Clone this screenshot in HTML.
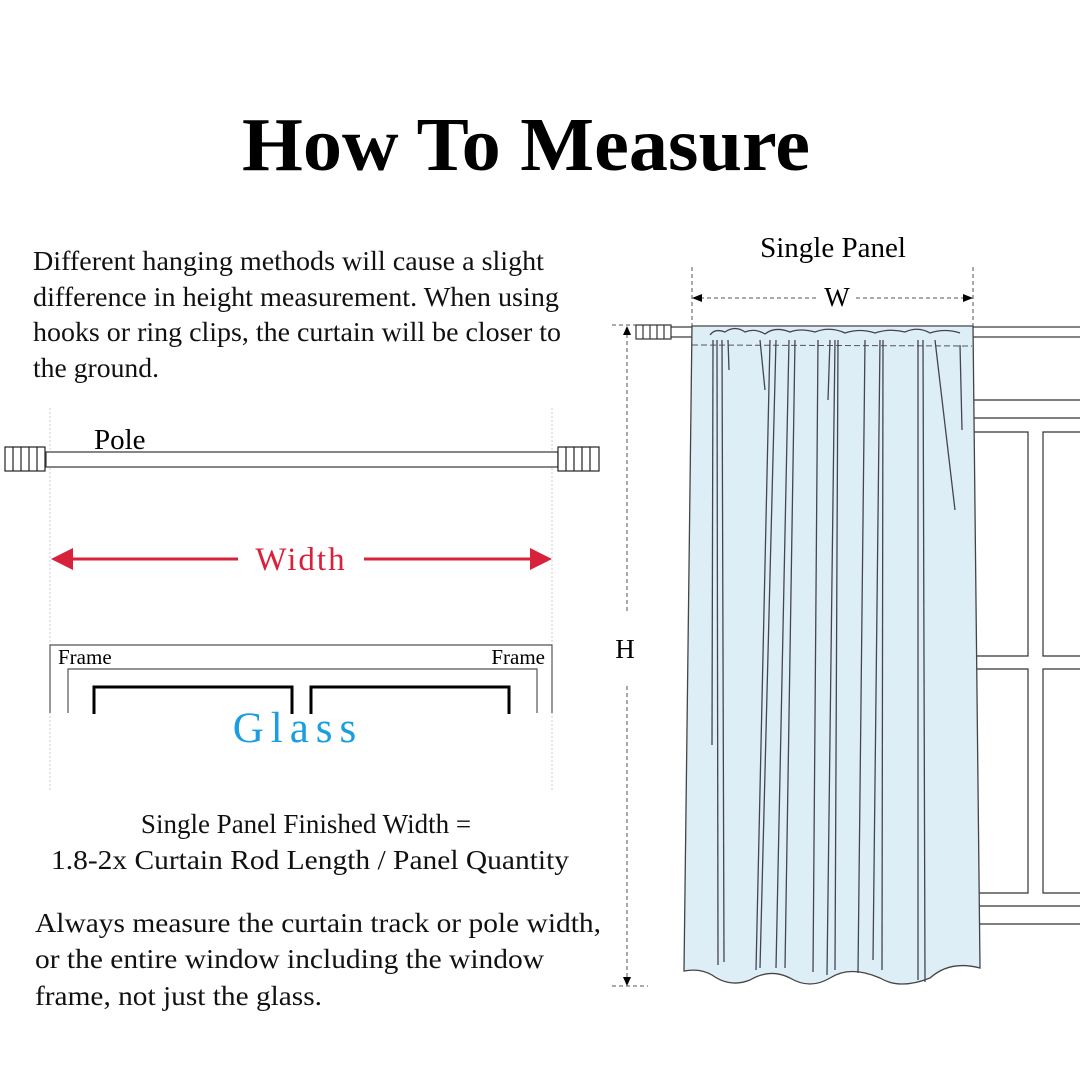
<!DOCTYPE html>
<html><head><meta charset="utf-8"><style>
html,body{margin:0;padding:0;background:#fff}
svg{display:block}
text{font-family:"Liberation Serif",serif}
</style></head><body>
<svg width="1080" height="1080" viewBox="0 0 1080 1080" xmlns="http://www.w3.org/2000/svg">
<text x="526" y="170" font-size="76" font-weight="bold" text-anchor="middle" textLength="568" lengthAdjust="spacingAndGlyphs">How To Measure</text>

<g font-size="27" fill="#111">
<text x="33" y="270" textLength="511" lengthAdjust="spacingAndGlyphs">Different hanging methods will cause a slight</text>
<text x="33" y="306" textLength="526" lengthAdjust="spacingAndGlyphs">difference in height measurement. When using</text>
<text x="33" y="341" textLength="528" lengthAdjust="spacingAndGlyphs">hooks or ring clips, the curtain will be closer to</text>
<text x="33" y="377" textLength="126" lengthAdjust="spacingAndGlyphs">the ground.</text>
</g>

<!-- left diagram guides -->
<line x1="50" y1="408" x2="50" y2="790" stroke="#ccc" stroke-width="1" stroke-dasharray="2,2"/>
<line x1="552" y1="408" x2="552" y2="790" stroke="#ccc" stroke-width="1" stroke-dasharray="2,2"/>
<text x="94" y="449" font-size="29">Pole</text>
<rect x="46" y="452" width="512" height="15" fill="#fff" stroke="#444" stroke-width="1.3"/>
<g fill="#fff" stroke="#222" stroke-width="1.2">
<rect x="5" y="447" width="40" height="24"/>
<line x1="13" y1="447" x2="13" y2="471"/><line x1="21" y1="447" x2="21" y2="471"/><line x1="29" y1="447" x2="29" y2="471"/><line x1="37" y1="447" x2="37" y2="471"/>
<rect x="558" y="447" width="41" height="24"/>
<line x1="566" y1="447" x2="566" y2="471"/><line x1="574" y1="447" x2="574" y2="471"/><line x1="582" y1="447" x2="582" y2="471"/><line x1="590" y1="447" x2="590" y2="471"/>
</g>
<g fill="#d8213a" stroke="#d8213a">
<line x1="66" y1="559" x2="238" y2="559" stroke-width="3"/>
<line x1="364" y1="559" x2="534" y2="559" stroke-width="3"/>
<polygon points="51,559 73,548 73,570" stroke="none"/>
<polygon points="552,559 530,548 530,570" stroke="none"/>
</g>
<text x="301" y="570" font-size="33" fill="#d8213a" text-anchor="middle" letter-spacing="2">Width</text>

<path d="M50,713 V645 H552 V713" fill="none" stroke="#555" stroke-width="1.2"/>
<path d="M68,713 V669 H537 V713" fill="none" stroke="#555" stroke-width="1.2"/>
<text x="58" y="664" font-size="21">Frame</text>
<text x="545" y="664" font-size="21" text-anchor="end">Frame</text>
<path d="M94,714 V687 H292 V714" fill="none" stroke="#000" stroke-width="3"/>
<path d="M311,714 V687 H509 V714" fill="none" stroke="#000" stroke-width="3"/>
<text x="298" y="742" font-size="43" fill="#1a9ee0" text-anchor="middle" letter-spacing="7">Glass</text>

<g font-size="27" fill="#111" text-anchor="middle">
<text x="306" y="833">Single Panel Finished Width =</text>
<text x="310" y="869" textLength="518" lengthAdjust="spacingAndGlyphs">1.8-2x Curtain Rod Length / Panel Quantity</text>
</g>
<g font-size="27" fill="#111">
<text x="35" y="932" textLength="566" lengthAdjust="spacingAndGlyphs">Always measure the curtain track or pole width,</text>
<text x="35" y="968" textLength="509" lengthAdjust="spacingAndGlyphs">or the entire window including the window</text>
<text x="35" y="1005" textLength="287" lengthAdjust="spacingAndGlyphs">frame, not just the glass.</text>
</g>

<!-- right diagram -->
<text x="833" y="257" font-size="29" text-anchor="middle">Single Panel</text>
<g stroke="#555" stroke-width="1" stroke-dasharray="4,3" fill="none">
<line x1="692" y1="267" x2="692" y2="330"/>
<line x1="973" y1="267" x2="973" y2="330"/>
<line x1="700" y1="298" x2="818" y2="298"/>
<line x1="856" y1="298" x2="966" y2="298"/>
<line x1="612" y1="325" x2="636" y2="325"/>
<line x1="627" y1="334" x2="627" y2="612"/>
<line x1="627" y1="686" x2="627" y2="978"/>
<line x1="612" y1="986" x2="648" y2="986"/>
</g>
<polygon points="692,298 702,294 702,302" fill="#000"/>
<polygon points="973,298 963,294 963,302" fill="#000"/>
<polygon points="627,326 623,335 631,335" fill="#000"/>
<polygon points="627,986 623,977 631,977" fill="#000"/>
<text x="837" y="306" font-size="27" text-anchor="middle">W</text>
<text x="625" y="658" font-size="27" text-anchor="middle">H</text>

<!-- window -->
<g fill="none" stroke="#333" stroke-width="1.2">
<line x1="972" y1="400" x2="1080" y2="400"/>
<line x1="972" y1="418" x2="1080" y2="418"/>
<path d="M972,432 H1028 V656 H972"/>
<path d="M1080,432 H1043 V656 H1080"/>
<path d="M972,669 H1028 V893 H972"/>
<path d="M1080,669 H1043 V893 H1080"/>
<line x1="972" y1="906" x2="1080" y2="906"/>
<line x1="972" y1="924" x2="1080" y2="924"/>
</g>
<!-- rod -->
<g fill="#fff" stroke="#333" stroke-width="1.2">
<rect x="670" y="327" width="30" height="10"/>
<rect x="972" y="327" width="110" height="10"/>
<rect x="636" y="325" width="35" height="14"/>
<line x1="643" y1="325" x2="643" y2="339"/><line x1="650" y1="325" x2="650" y2="339"/><line x1="657" y1="325" x2="657" y2="339"/><line x1="664" y1="325" x2="664" y2="339"/>
</g>
<!-- curtain -->
<path d="M692,326 L973,326 L980,968 Q950,960 930,978 Q900,990 880,978 Q850,965 830,978 Q810,990 790,978 Q770,968 750,980 Q730,988 712,975 Q700,968 684,971 L692,326 Z" fill="#deeef7" stroke="#444" stroke-width="1.3"/>
<line x1="692" y1="345" x2="972" y2="346" stroke="#555" stroke-width="1" stroke-dasharray="6,3"/>
<g stroke="#445" stroke-width="1.3" fill="none">
<path d="M710,335 Q715,328 725,332 Q735,325 745,332 Q755,328 765,334 Q775,326 790,332 Q800,328 815,332 Q830,326 845,333 Q860,328 875,333 Q890,328 905,332 Q918,326 930,333 Q945,328 960,333"/>
<line x1="717" y1="340" x2="718" y2="965"/><line x1="722" y1="340" x2="724" y2="962"/>
<line x1="728" y1="340" x2="729" y2="370"/>
<line x1="713" y1="340" x2="712" y2="745"/>
<line x1="770" y1="340" x2="756" y2="970"/><line x1="776" y1="340" x2="760" y2="968"/>
<line x1="789" y1="340" x2="776" y2="968"/><line x1="795" y1="340" x2="785" y2="968"/>
<line x1="818" y1="340" x2="813" y2="972"/><line x1="835" y1="340" x2="827" y2="975"/><line x1="838" y1="340" x2="835" y2="970"/>
<line x1="865" y1="340" x2="858" y2="973"/><line x1="880" y1="340" x2="873" y2="960"/><line x1="883" y1="340" x2="882" y2="970"/>
<line x1="918" y1="340" x2="918" y2="980"/><line x1="923" y1="340" x2="925" y2="982"/>
<line x1="760" y1="340" x2="765" y2="390"/><line x1="830" y1="340" x2="828" y2="400"/><line x1="935" y1="340" x2="955" y2="510"/>
<line x1="960" y1="345" x2="962" y2="430"/>
</g>
</svg>
</body></html>
